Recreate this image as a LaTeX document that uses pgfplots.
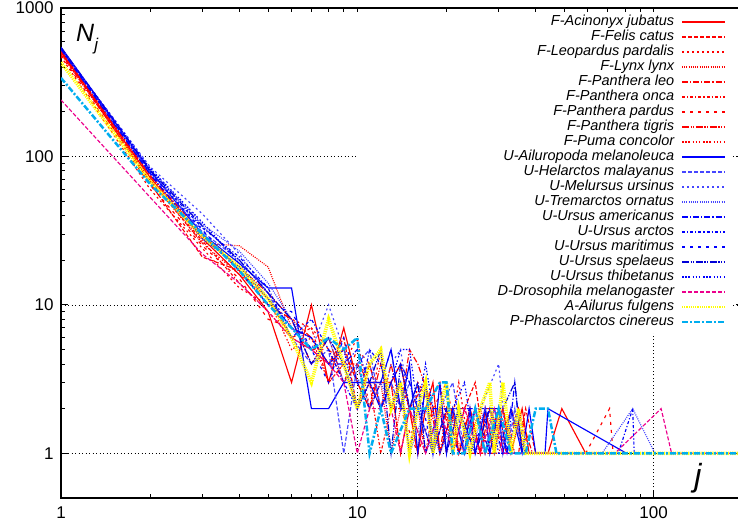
\documentclass[border=0pt]{standalone}
\usepackage{pgfplots}
\pgfplotsset{compat=1.18}
\usepackage{fontspec}
\setmainfont{Liberation Sans}
\definecolor{lblue}{RGB}{70,70,255}
\definecolor{myyellow}{RGB}{255,255,0}
\definecolor{dblue}{RGB}{0,0,215}
\tikzset{
  s1/.style={solid},
  s2/.style={dash pattern=on 4pt off 2pt},
  s3/.style={dash pattern=on 2pt off 3pt},
  s4/.style={dash pattern=on 1pt off 1.2pt},
  s5/.style={dash pattern=on 6pt off 2pt on 1.2pt off 2pt},
  s6/.style={dash pattern=on 3pt off 2pt on 1.2pt off 2pt},
  s7/.style={dash pattern=on 3pt off 5pt},
  s8/.style={dash pattern=on 7pt off 1.5pt on 1.2pt off 1.5pt on 1.2pt off 1.5pt},
  s9/.style={dash pattern=on 1.5pt off 1.5pt on 1.5pt off 1.5pt on 1.5pt off 3pt},
  P/.style n args={2}{#2, draw=#1, color=#1, line width=1.15pt},
}
\begin{document}
\begin{tikzpicture}
\begin{axis}[
  xmode=log, ymode=log,
  scale only axis, width=681.8pt, height=490pt,
  xmin=1, xmax=200, ymin=0.5, ymax=1000,
  xtick={1,10,100}, xticklabels={1,10,100},
  ytick={1,10,100,1000}, yticklabels={1,10,100,1000},
  tick align=inside, major tick length=7pt, minor tick length=4pt,
  axis line style={line width=1.2pt},
  every tick/.style={black, line width=0.8pt},
  grid=major,
  major grid style={black, line width=0.7pt, dash pattern=on 1pt off 2.5pt},
  ticklabel style={font=\fontsize{17}{20}\selectfont},
  yticklabel style={xshift=-4pt},
  xticklabel style={yshift=-5pt},
  legend cell align=right,
  legend plot pos=right,
  legend image code/.code={\begin{scope}\path[#1, draw, line width=1.6pt] (0pt,0pt) -- (43pt,0pt);\end{scope}},
  legend style={at={(0.9827,0.9929)}, anchor=north east, fill=white, draw=none,
    inner xsep=5pt, inner ysep=3pt, column sep=5pt, row sep=0pt,
    font=\fontsize{14.5}{16}\selectfont\itshape,
    nodes={text height=10.5pt, text depth=3pt, inner ysep=0.75pt}},
]
% F-Acinonyx jubatus
\addplot[P={red}{s1}] coordinates {(1,505)(2,72)(3,28)(4,16)(5,9)(6,3)(7,10)(8,3)(9,7)(10,3)(11,3)(12,3)(13,3)(14,4)(16,1)(17,2)(18,3)(19,1)(21,2)(22,1)(24,2)(26,1)(27,2)(29,1)(31,2)(33,1)(36,2)(38,1)(44,1)(49,2)(59,1)};
\addlegendentry{\makebox[311pt][r]{F-Acinonyx jubatus}}
% F-Felis catus
\addplot[P={red}{s2}] coordinates {(1,520)(2,66)(3,21)(4,17)(5,11)(6,6)(7,5)(8,4)(9,6)(10,2)(11,4)(12,2)(13,3)(14,1)(15,2)(17,3)(18,1)(20,2)(21,1)(23,2)(25,3)(27,1)(30,2)(32,1)(35,1)(37,2)(40,1)};
\addlegendentry{F-Felis catus}
% F-Leopardus pardalis
\addplot[P={red}{s3}] coordinates {(1,470)(2,60)(3,24)(4,13)(5,10)(6,8)(7,7)(8,5)(9,4)(10,6)(11,2)(12,5)(13,2)(14,3)(15,1)(16,3)(18,2)(19,2)(20,1)(22,3)(24,1)(25,2)(28,1)(30,2)(34,1)};
\addlegendentry{F-Leopardus pardalis}
% F-Lynx lynx
\addplot[P={red}{s4}] coordinates {(1,490)(2,70)(3,26)(4,25)(5,18)(6,7)(7,6)(8,4)(9,5)(10,3)(11,2)(12,3)(13,1)(14,2)(16,2)(17,1)(19,2)(23,1)(26,2)(29,1)};
\addlegendentry{F-Lynx lynx}
% F-Panthera leo
\addplot[P={red}{s5}] coordinates {(1,515)(2,75)(3,30)(4,17)(5,10)(6,8)(7,4)(8,6)(9,3)(10,4)(11,3)(12,2)(13,4)(14,2)(15,5)(16,4)(18,2)(19,1)(20,2)(22,1)(24,2)(26,1)(28,2)(32,1)(35,2)(39,1)};
\addlegendentry{F-Panthera leo}
% F-Panthera onca
\addplot[P={red}{s6}] coordinates {(1,500)(2,68)(3,27)(4,14)(5,9)(6,6)(7,7)(8,3)(9,4)(10,2)(11,3)(12,1)(13,2)(14,3)(15,2)(17,1)(18,2)(21,2)(23,1)(27,1)(31,2)(34,1)};
\addlegendentry{F-Panthera onca}
% F-Panthera pardus
\addplot[P={red}{s7}] coordinates {(1,480)(2,64)(3,25)(4,15)(5,8)(6,7)(7,5)(8,5)(9,3)(10,5)(11,4)(12,2)(13,3)(14,2)(16,1)(18,2)(20,3)(22,1)(25,2)(28,2)(31,1)(35,2)(38,1)(45,1)(59,1)(71,2)(73,1)};
\addlegendentry{F-Panthera pardus}
% F-Panthera tigris
\addplot[P={red}{s8}] coordinates {(1,510)(2,74)(3,29)(4,18)(5,12)(6,8)(7,6)(8,4)(9,5)(10,3)(11,2)(12,4)(13,2)(15,2)(16,1)(17,3)(19,1)(21,2)(24,2)(26,1)(30,1)(33,2)(37,1)};
\addlegendentry{F-Panthera tigris}
% F-Puma concolor
\addplot[P={red}{s9}] coordinates {(1,495)(2,69)(3,26)(4,16)(5,11)(6,5)(7,6)(8,3)(9,4)(10,4)(11,2)(12,3)(13,3)(14,1)(15,2)(17,2)(19,3)(21,1)(23,2)(26,1)(29,2)(32,1)};
\addlegendentry{F-Puma concolor}
% U-Ailuropoda melanoleuca
\addplot[P={blue}{s1}] coordinates {(1,545)(2,80)(3,30)(4,19)(5,13)(6,13)(7,2)(8,2)(9,3)(10,3)(11,3)(12,3)(13,5)(14,2)(15,4)(16,1)(17,3)(18,1)(19,3)(20,1)(21,2)(23,1)(24,2)(25,1)(27,2)(28,1)(30,2)(31,1)(33,2)(36,1)(38,2)(40,1)(43,1)(44,2)(81,1)};
\addlegendentry{U-Ailuropoda melanoleuca}
% U-Helarctos malayanus
\addplot[P={lblue}{s2}] coordinates {(1,540)(2,78)(3,31)(4,20)(5,12)(6,6)(7,4)(8,5)(9,1)(10,4)(11,5)(12,2)(13,3)(14,2)(15,3)(16,2)(18,1)(19,2)(21,3)(23,1)(25,2)(27,1)(29,2)(32,1)(34,2)(36,1)};
\addlegendentry{U-Helarctos malayanus}
% U-Melursus ursinus
\addplot[P={lblue}{s3}] coordinates {(1,535)(2,85)(3,41)(4,22)(5,12)(6,7)(7,5)(8,10)(9,5)(10,3)(11,4)(12,2)(13,4)(14,5)(15,2)(16,3)(17,1)(19,2)(21,2)(23,1)(24,2)(26,2)(30,4)(32,1)(35,2)(37,1)};
\addlegendentry{U-Melursus ursinus}
% U-Tremarctos ornatus
\addplot[P={lblue}{s4}] coordinates {(1,530)(2,82)(3,35)(4,23)(5,14)(6,8)(7,5)(8,6)(9,3)(10,4)(11,2)(12,3)(13,2)(14,3)(15,1)(17,2)(19,1)(22,2)(24,1)(27,2)(31,1)(36,1)(42,1)(67,1)(85,2)(101,1)};
\addlegendentry{U-Tremarctos ornatus}
% U-Ursus americanus
\addplot[P={blue}{s5}] coordinates {(1,525)(2,76)(3,28)(4,18)(5,11)(6,7)(7,6)(8,4)(9,4)(10,5)(11,3)(12,2)(13,3)(14,4)(15,3)(16,2)(17,2)(18,2)(19,2)(20,2)(22,2)(24,2)(26,2)(28,2)(30,2)(32,1)(34,3)(36,1)(40,1)};
\addlegendentry{U-Ursus americanus}
% U-Ursus arctos
\addplot[P={blue}{s6}] coordinates {(1,538)(2,79)(3,33)(4,21)(5,13)(6,6)(7,8)(8,5)(9,3)(10,2)(11,5)(12,4)(13,2)(14,3)(15,1)(16,2)(18,1)(20,2)(22,1)(25,2)(28,1)(33,1)(38,1)(76,1)(85,2)(86,1)};
\addlegendentry{U-Ursus arctos}
% U-Ursus maritimus
\addplot[P={blue}{s7}] coordinates {(1,528)(2,77)(3,32)(4,17)(5,10)(6,9)(7,5)(8,3)(9,6)(10,3)(11,2)(12,3)(13,5)(14,2)(15,2)(16,3)(18,1)(20,2)(22,2)(24,1)(28,2)(31,1)(34,1)};
\addlegendentry{U-Ursus maritimus}
% U-Ursus spelaeus
\addplot[P={dblue}{s8}] coordinates {(1,542)(2,81)(3,34)(4,20)(5,12)(6,8)(7,4)(8,6)(9,4)(10,2)(11,3)(12,5)(13,1)(14,4)(15,2)(16,3)(17,1)(19,2)(20,1)(22,2)(25,1)(28,2)(31,2)(34,3)(36,1)(39,1)};
\addlegendentry{U-Ursus spelaeus}
% U-Ursus thibetanus
\addplot[P={blue}{s9}] coordinates {(1,532)(2,83)(3,36)(4,19)(5,11)(6,7)(7,6)(8,4)(9,5)(10,2)(11,3)(12,2)(13,3)(14,5)(15,5)(16,2)(17,4)(18,2)(19,1)(21,2)(23,3)(25,1)(28,2)(30,1)(33,1)};
\addlegendentry{U-Ursus thibetanus}
% D-Drosophila melanogaster
\addplot[P={magenta}{s2}] coordinates {(1,240)(2,53)(3,22)(4,14)(5,9)(6,6)(7,5)(8,4)(9,3)(10,1)(11,2)(12,2)(13,2)(14,1)(15,2)(17,1)(19,2)(21,1)(23,2)(26,1)(29,2)(31,1)(34,1)(74,1)(106,2)(115,1)(300,1)};
\addlegendentry{D-Drosophila melanogaster}
% A-Ailurus fulgens
\addplot[dash pattern=on 1.2pt off 1pt, draw=myyellow, color=myyellow, line width=3.5pt] coordinates {(1,430)(2,68)(3,29)(4,18)(5,11)(6,6)(7,3)(8,8)(9,4)(10,2)(11,4)(12,5)(13,2)(14,3)(15,1)(16,2)(17,3)(18,1)(19,2)(20,3)(21,1)(22,2)(24,1)(26,2)(28,3)(29,1)(31,3)(33,1)(35,2)(37,1)(300,1)};
\addlegendentry{A-Ailurus fulgens}
% P-Phascolarctos cinereus
\addplot[dash pattern=on 6pt off 2pt on 2pt off 2pt, draw=cyan, color=cyan, line width=2.5pt] coordinates {(1,338)(2,65)(3,30)(4,17)(5,10)(6,7)(7,5)(8,6)(9,5)(10,6)(11,1)(12,2)(13,1)(15,2)(17,2)(19,3)(20,3)(21,1)(23,1)(25,2)(27,1)(30,2)(33,1)(37,1)(40,2)(44,2)(47,1)(300,1)};
\addlegendentry{P-Phascolarctos cinereus}
% labels
\node[anchor=north west, inner sep=0pt] at (axis cs:1.124,780) {\fontsize{25}{28}\selectfont\itshape N\raisebox{-9pt}{\fontsize{17}{18}\selectfont j}};
\node[anchor=center, inner sep=0pt] at (axis cs:141,0.68) {\fontsize{32}{34}\selectfont\itshape j};
\end{axis}
\pgfresetboundingbox
\useasboundingbox ([xshift=-61pt,yshift=-29pt]current axis.south west) rectangle ([xshift=677pt,yshift=8pt]current axis.north west);
\end{tikzpicture}
\end{document}
